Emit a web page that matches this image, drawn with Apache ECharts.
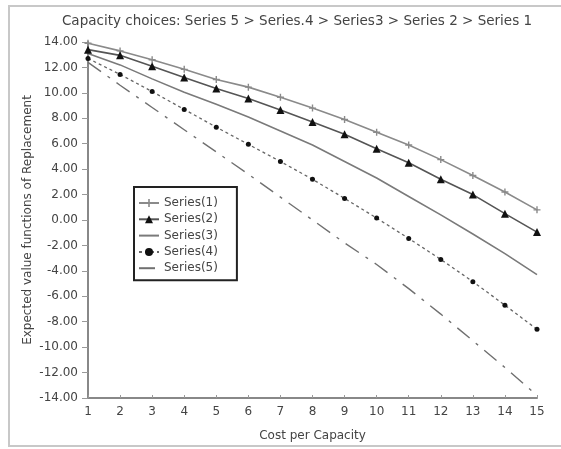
<!DOCTYPE html>
<html>
<head>
<meta charset="utf-8">
<script src="https://cdn.jsdelivr.net/npm/echarts@6/dist/echarts.min.js"></script>
<style>html,body{margin:0;padding:0;background:#fff}#c{width:561px;height:449px}</style>
</head>
<body>
<div id="c"></div>
<script>
const categories = [1,2,3,4,5,6,7,8,9,10,11,12,13,14,15];
const series1 = [13.9,13.3,12.6,11.85,11.05,10.45,9.65,8.8,7.9,6.9,5.9,4.75,3.5,2.2,0.8];
const series2 = [13.4,12.95,12.1,11.2,10.35,9.55,8.65,7.7,6.75,5.6,4.5,3.2,2.0,0.5,-0.95];
const series3 = [13.1,12.2,11.1,10.05,9.1,8.1,7.0,5.9,4.6,3.3,1.85,0.4,-1.1,-2.65,-4.3];
const series4 = [12.7,11.45,10.1,8.7,7.3,5.95,4.6,3.2,1.7,0.15,-1.45,-3.1,-4.85,-6.7,-8.6];
const series5 = [12.4,10.6,8.85,7.1,5.35,3.6,1.8,0.0,-1.8,-3.5,-5.4,-7.4,-9.5,-11.6,-13.8];
const seriesNames = ['Series(1)','Series(2)','Series(3)','Series(4)','Series(5)'];
const titleText = 'Capacity choices: Series 5 > Series.4 > Series3 > Series 2 > Series 1';

const pts = arr => categories.map((c,i)=>[c,arr[i]]);
const font = 'DejaVu Sans, sans-serif';
const plus = 'path://M4,0H6V4H10V6H6V10H4V6H0V4H4Z';

const chart = echarts.init(document.getElementById('c'), null, {renderer:'canvas'});
chart.setOption({
  animation:false,
  backgroundColor:'#fff',
  title:{text:titleText,left:292,textAlign:'center',top:9,
    textStyle:{fontFamily:font,fontSize:13.5,fontWeight:'normal',color:'#444'}},
  grid:{left:88,right:24,top:42,bottom:51,containLabel:false},
  legend:{orient:'vertical',left:134,top:187,
    borderColor:'#222',borderWidth:2,padding:[10,19,6,4],itemGap:4.3,
    itemWidth:20,itemHeight:10,
    textStyle:{fontFamily:font,fontSize:12,color:'#444'},
    data:seriesNames},
  xAxis:{type:'value',min:1,max:15,interval:1,
    name:'Cost per Capacity',nameLocation:'middle',nameGap:32,
    nameTextStyle:{fontFamily:font,fontSize:12,color:'#444'},
    axisLine:{onZero:false,lineStyle:{color:'#888',width:2}},
    axisTick:{inside:true,length:3,lineStyle:{color:'#999'}},
    axisLabel:{fontFamily:font,fontSize:12,color:'#444',margin:8},
    splitLine:{show:false}},
  yAxis:{type:'value',min:-14,max:14,interval:2,
    name:'Expected value functions of Replacement',nameLocation:'middle',nameGap:54,
    nameMoveOverlap:false,
    nameTextStyle:{fontFamily:font,fontSize:12,color:'#444'},
    axisLine:{show:true,onZero:false,lineStyle:{color:'#888',width:2}},
    axisTick:{show:true,length:6,lineStyle:{color:'#999'}},
    axisLabel:{fontFamily:font,fontSize:12,color:'#444',margin:10,formatter:v=>v.toFixed(2)},
    splitLine:{show:false}},
  graphic:[{type:'rect',shape:{x:9,y:6,width:600,height:440},
    style:{fill:'none',stroke:'#c8c8c8',lineWidth:2},silent:true,z:-1}],
  series:[
    {name:seriesNames[0],type:'line',data:pts(series1),symbol:plus,symbolSize:7,
      lineStyle:{color:'#8a8a8a',width:1.6},itemStyle:{color:'#8a8a8a'}},
    {name:seriesNames[1],type:'line',data:pts(series2),symbol:'triangle',symbolSize:8,
      lineStyle:{color:'#555',width:1.6},itemStyle:{color:'#111'}},
    {name:seriesNames[2],type:'line',data:pts(series3),symbol:'none',
      lineStyle:{color:'#7a7a7a',width:1.6},itemStyle:{color:'#7a7a7a',opacity:0}},
    {name:seriesNames[3],type:'line',data:pts(series4),symbol:'circle',symbolSize:5,
      lineStyle:{color:'#666',width:1.3,type:[3,3]},itemStyle:{color:'#111'}},
    {name:seriesNames[4],type:'line',data:pts(series5),symbol:'none',
      lineStyle:{color:'#707070',width:1.4,type:[16,8,3,8]},itemStyle:{color:'#707070',opacity:0}}
  ]
});
</script>
</body>
</html>
